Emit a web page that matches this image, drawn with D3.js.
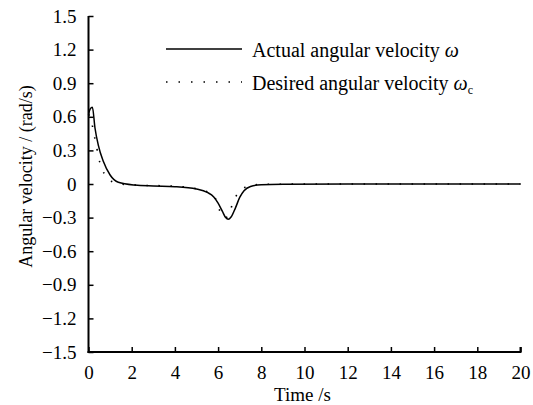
<!DOCTYPE html>
<html>
<head>
<meta charset="utf-8">
<script src="https://cdn.jsdelivr.net/npm/d3@7"></script>
<style>
  html, body { margin: 0; padding: 0; background: #fff; }
  svg { display: block; font-family: "Liberation Serif", "Times New Roman", serif; }
</style>
</head>
<body>
<svg id="chart" width="533" height="405"></svg>
<script>
// Actual angular velocity samples (time in s, value in rad/s)
const actualTime  = [0, 0.08, 0.18, 0.3, 0.45, 0.69, 1.0, 1.38, 2.15, 3, 4, 5, 5.5, 5.8, 6.0, 6.2, 6.35, 6.47, 6.6, 6.8, 7.0, 7.2, 7.5, 8, 9, 12, 16, 20];
const actualValue = [0.62, 0.67, 0.685, 0.50, 0.35, 0.20, 0.08, 0.015, -0.01, -0.018, -0.024, -0.045, -0.075, -0.115, -0.17, -0.245, -0.30, -0.315, -0.295, -0.215, -0.12, -0.06, -0.022, -0.006, -0.002, 0, 0, 0];

// Desired angular velocity samples
const desiredTime  = [0, 0.12, 0.22, 0.35, 0.45, 0.61, 0.84, 1.1, 1.33, 2, 4, 5.24, 5.78, 6.0, 6.17, 6.3, 6.47, 6.66, 6.89, 7.1, 7.3, 7.6, 8, 12, 20];
const desiredValue = [0.62, 0.59, 0.47, 0.36, 0.25, 0.146, 0.056, 0.02, 0.006, -0.008, -0.02, -0.054, -0.098, -0.19, -0.29, -0.30, -0.29, -0.18, -0.09, -0.05, -0.024, -0.01, -0.003, 0, 0];

const xTicks = [0, 2, 4, 6, 8, 10, 12, 14, 16, 18, 20];
const yTicks = [1.5, 1.2, 0.9, 0.6, 0.3, 0, -0.3, -0.6, -0.9, -1.2, -1.5];

const svg = d3.select("#chart");
const plotL = 88.5, plotR = 520.5, plotT = 16, plotB = 352;

const x = d3.scaleLinear().domain([0, 20]).range([plotL, plotR]);
const y = d3.scaleLinear().domain([-1.5, 1.5]).range([plotB, plotT]);

const fmtY = v => (v === 0 ? "0" : d3.format(".1f")(v).replace("-", "\u2212"));

// Axes with inward ticks
const xAxis = d3.axisBottom(x).tickValues(xTicks).tickSizeInner(-5).tickSizeOuter(0).tickPadding(14).tickFormat(d3.format("d"));
const yAxis = d3.axisLeft(y).tickValues(yTicks).tickSizeInner(-5).tickSizeOuter(0).tickPadding(12).tickFormat(fmtY);

const gx = svg.append("g").attr("transform", `translate(0,${plotB})`).call(xAxis);
const gy = svg.append("g").attr("transform", `translate(${plotL},0)`).call(yAxis);

[gx, gy].forEach(g => {
  g.select(".domain").attr("stroke", "#000").attr("stroke-width", 2);
  g.selectAll(".tick line").attr("stroke", "#000").attr("stroke-width", 1.5);
  g.selectAll(".tick text").attr("fill", "#000").attr("font-size", 19)
    .attr("font-family", "Liberation Serif, Times New Roman, serif");
});
gx.selectAll(".tick text").attr("dy", "0.71em");
// close the corner between the two axis lines
gx.select(".domain").attr("d", `M${plotL - 1},0H${plotR}V-5`);
gy.select(".domain").attr("d", `M0,${plotB + 1}V${plotT}`);

// Axis titles
svg.append("text")
  .attr("x", (plotL + plotR) / 2 - 2).attr("y", 401)
  .attr("text-anchor", "middle").attr("font-size", 19)
  .text("Time /s");

svg.append("text")
  .attr("transform", `translate(32,176.5) rotate(-90)`)
  .attr("text-anchor", "middle").attr("font-size", 18)
  .text("Angular velocity / (rad/s)");

// Curves
const line = d3.line().x(d => x(d[0])).y(d => y(d[1])).curve(d3.curveMonotoneX);
const actual = d3.zip(actualTime, actualValue);
const desired = d3.zip(desiredTime, desiredValue);

svg.append("path").datum(desired)
  .attr("d", line).attr("fill", "none")
  .attr("stroke", "#000").attr("stroke-width", 1.6)
  .attr("stroke-dasharray", "1.5,10.5");

svg.append("path").datum(actual)
  .attr("d", line).attr("fill", "none")
  .attr("stroke", "#000").attr("stroke-width", 1.5);

// Legend
const lg = svg.append("g");
lg.append("line").attr("x1", 166).attr("x2", 242).attr("y1", 49).attr("y2", 49)
  .attr("stroke", "#000").attr("stroke-width", 1.5);
lg.append("line").attr("x1", 166).attr("x2", 242).attr("y1", 82).attr("y2", 82)
  .attr("stroke", "#000").attr("stroke-width", 1.6).attr("stroke-dasharray", "1.5,11");

const t1 = lg.append("text").attr("x", 252).attr("y", 56.5).attr("font-size", 20);
t1.append("tspan").text("Actual angular velocity ");
t1.append("tspan").attr("font-style", "italic").text("\u03C9");

const t2 = lg.append("text").attr("x", 252).attr("y", 89.5).attr("font-size", 20);
t2.append("tspan").text("Desired angular velocity ");
t2.append("tspan").attr("font-style", "italic").text("\u03C9");
t2.append("tspan").attr("font-size", 12).attr("dy", 4).text("c");
</script>
</body>
</html>
